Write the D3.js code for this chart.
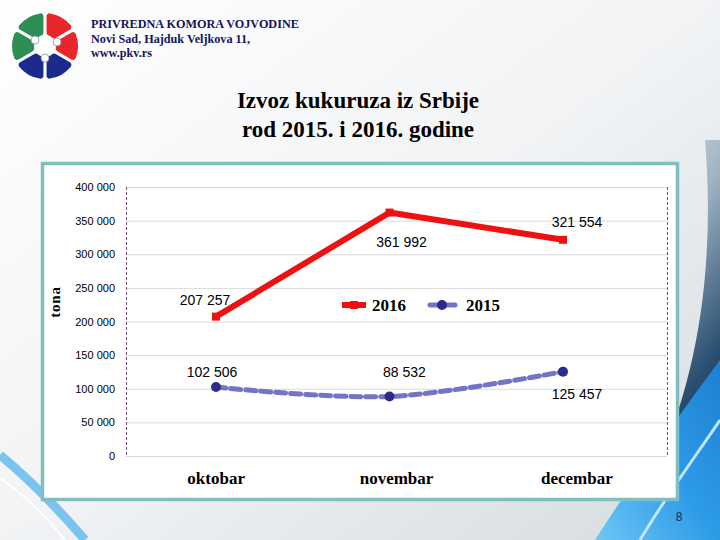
<!DOCTYPE html>
<html>
<head>
<meta charset="utf-8">
<title>Izvoz kukuruza iz Srbije</title>
<style>
body { margin: 0; padding: 0; }
svg { display: block; }
.tick-y { font-family: "Liberation Sans", sans-serif; font-size: 11px; fill: #000; }
.dlabel { font-family: "Liberation Sans", sans-serif; font-size: 14px; fill: #000; }
.serif { font-family: "Liberation Serif", serif; }
</style>
<script src="https://d3js.org/d3.v7.min.js"></script>
</head>
<body>
<svg id="chart" width="720" height="540"></svg>
<script>
// data
const months = ["oktobar", "novembar", "decembar"];
const values2016 = [207257, 361992, 321554];
const values2015 = [102506, 88532, 125457];
const yTicks = [0, 50000, 100000, 150000, 200000, 250000, 300000, 350000, 400000];
const headerLines = ["PRIVREDNA KOMORA VOJVODINE", "Novi Sad, Hajduk Veljkova 11,", "www.pkv.rs"];
const titleLines = ["Izvoz kukuruza iz Srbije", "rod 2015. i 2016. godine"];

const svg = d3.select("#chart");
const W = 720, H = 540;

// background
const defs = svg.append("defs");
const bg = defs.append("linearGradient").attr("id", "bg")
  .attr("x1", "0").attr("y1", "0").attr("x2", "1").attr("y2", "1");
bg.append("stop").attr("offset", "0").attr("stop-color", "#ffffff");
bg.append("stop").attr("offset", "0.5").attr("stop-color", "#f1f3f5");
bg.append("stop").attr("offset", "1").attr("stop-color", "#d5dbe0");
const dark = defs.append("linearGradient").attr("id", "dark")
  .attr("x1", "0").attr("y1", "0").attr("x2", "0.3").attr("y2", "1");
dark.append("stop").attr("offset", "0").attr("stop-color", "#d9e0e6");
dark.append("stop").attr("offset", "0.35").attr("stop-color", "#9fb2c2");
dark.append("stop").attr("offset", "0.75").attr("stop-color", "#2a4f70");
dark.append("stop").attr("offset", "1").attr("stop-color", "#0e2a4a");
const blue = defs.append("linearGradient").attr("id", "blue")
  .attr("x1", "0").attr("y1", "1").attr("x2", "1").attr("y2", "0");
blue.append("stop").attr("offset", "0").attr("stop-color", "#6fc6f5");
blue.append("stop").attr("offset", "0.5").attr("stop-color", "#2d9be8");
blue.append("stop").attr("offset", "1").attr("stop-color", "#1e7fd0");

svg.append("rect").attr("width", W).attr("height", H).attr("fill", "url(#bg)");
svg.append("path").attr("fill", "url(#dark)")
  .attr("d", "M705,140 C715,260 700,380 650,480 L630,540 L720,540 L720,140 Z");
svg.append("path").attr("fill", "url(#blue)")
  .attr("d", "M595,540 C640,470 690,400 720,360 L720,540 Z");
svg.append("path").attr("fill", "none").attr("stroke", "#bfe6ff").attr("stroke-width", 3)
  .attr("d", "M640,540 C670,490 700,450 720,420");
svg.append("path").attr("fill", "none").attr("stroke", "#5cb8ee").attr("stroke-width", 9).attr("opacity", 0.8)
  .attr("d", "M0,455 C30,480 55,505 85,540");
svg.append("path").attr("fill", "none").attr("stroke", "#ffffff").attr("stroke-width", 2)
  .attr("d", "M0,478 C25,495 45,515 65,540");

// logo
const logo = svg.append("g").attr("transform", "translate(45,46)");
const logoColors = ["#e8262c", "#e8262c", "#1b2a8c", "#1b2a8c", "#2e8f55", "#2e8f55"];
const arc = d3.arc().innerRadius(11).outerRadius(33).padAngle(0.09).cornerRadius(3);
const pie = d3.pie().value(1).sort(null);
logo.selectAll("path").data(pie(logoColors)).join("path")
  .attr("d", arc).attr("fill", (d, i) => logoColors[i]);
logo.append("circle").attr("r", 8).attr("fill", "#fff");
[[-10, -6], [12, -4], [0, 12]].forEach(p => {
  logo.append("line").attr("x1", 0).attr("y1", 0).attr("x2", p[0]).attr("y2", p[1])
    .attr("stroke", "#fff").attr("stroke-width", 3);
  logo.append("circle").attr("cx", p[0]).attr("cy", p[1]).attr("r", 4)
    .attr("fill", "#fff").attr("stroke", "#8890a8").attr("stroke-width", 0.8);
});

// header
svg.append("g").selectAll("text").data(headerLines).join("text")
  .attr("class", "serif")
  .attr("x", 91).attr("y", (d, i) => 28 + i * 14.5)
  .attr("font-size", 12.2).attr("font-weight", "bold").attr("fill", "#14145c")
  .text(d => d);

// title
svg.append("g").selectAll("text").data(titleLines).join("text")
  .attr("class", "serif")
  .attr("x", 358).attr("y", (d, i) => 108 + i * 29)
  .attr("text-anchor", "middle").attr("font-size", 23).attr("font-weight", "bold").attr("fill", "#000")
  .text(d => d);

// chart frame
svg.append("rect").attr("x", 42.5).attr("y", 163.5).attr("width", 635).attr("height", 336)
  .attr("fill", "#fff").attr("stroke", "#7fbfc0").attr("stroke-width", 3.5);

const plot = { left: 126, right: 667, top: 187, bottom: 456 };
const y = d3.scaleLinear().domain([0, 400000]).range([plot.bottom, plot.top]);
const xBand = d3.scaleBand().domain(months).range([plot.left, plot.right]);
const xLine = d3.scalePoint().domain(months).range([216, 563]);
const fmt = v => d3.format(",")(v).replace(/,/g, " ");

// gridlines
svg.append("g").selectAll("line").data(yTicks).join("line")
  .attr("x1", plot.left).attr("x2", plot.right)
  .attr("y1", d => y(d) + 0.5).attr("y2", d => y(d) + 0.5)
  .attr("stroke", "#d9d9d9").attr("stroke-width", 1);
// side axis lines
[plot.left, plot.right].forEach(xx => {
  svg.append("line").attr("x1", xx + 0.5).attr("x2", xx + 0.5)
    .attr("y1", plot.top).attr("y2", plot.bottom)
    .attr("stroke", "#7a4a7a").attr("stroke-width", 1).attr("stroke-dasharray", "3,2");
});

// y axis labels
const yAxis = d3.axisLeft(y).tickValues(yTicks).tickFormat(fmt).tickSize(0).tickPadding(11);
const ya = svg.append("g").attr("transform", `translate(${plot.left},0)`).call(yAxis);
ya.select(".domain").remove();
ya.selectAll("text").attr("class", "tick-y").attr("font-family", null).attr("font-size", null);

svg.append("text").attr("class", "serif")
  .attr("transform", "translate(60,302) rotate(-90)")
  .attr("text-anchor", "middle").attr("font-size", 15).attr("font-weight", "bold")
  .attr("letter-spacing", 0.8)
  .text("tona");

// x axis labels
const xAxis = d3.axisBottom(xBand).tickSize(0).tickPadding(16);
const xa = svg.append("g").attr("transform", `translate(0,${plot.bottom})`).call(xAxis);
xa.select(".domain").remove();
xa.selectAll("text").attr("class", "serif").attr("font-family", null)
  .attr("font-size", 17).attr("font-weight", "bold").attr("fill", "#000");

// 2015 series
const line2015 = d3.line().x((d, i) => xLine(months[i])).y(d => y(d)).curve(d3.curveCatmullRom.alpha(0.5));
svg.append("path").datum(values2015).attr("d", line2015)
  .attr("fill", "none").attr("stroke", "#7474c4").attr("stroke-width", 5)
  .attr("stroke-dasharray", "10,5").attr("stroke-linecap", "round");
svg.append("g").selectAll("circle").data(values2015).join("circle")
  .attr("cx", (d, i) => xLine(months[i])).attr("cy", d => y(d)).attr("r", 5)
  .attr("fill", "#2b2b8c");

// 2016 series
const line2016 = d3.line().x((d, i) => xLine(months[i])).y(d => y(d));
svg.append("path").datum(values2016).attr("d", line2016)
  .attr("fill", "none").attr("stroke", "#ee1111").attr("stroke-width", 6)
  .attr("stroke-linejoin", "round");
const sq = d3.symbol().type(d3.symbolSquare).size(64);
svg.append("g").selectAll("path").data(values2016).join("path")
  .attr("transform", (d, i) => `translate(${xLine(months[i])},${y(d)})`)
  .attr("d", sq).attr("fill", "#ee1111");

// data labels
const off2016 = [[-11, -12], [12, 34], [14, -13]];
const off2015 = [[-4, -10], [15, -19], [14, 27]];
svg.append("g").selectAll("text").data(values2016).join("text").attr("class", "dlabel")
  .attr("x", (d, i) => xLine(months[i]) + off2016[i][0])
  .attr("y", (d, i) => y(d) + off2016[i][1])
  .attr("text-anchor", "middle").text(fmt);
svg.append("g").selectAll("text").data(values2015).join("text").attr("class", "dlabel")
  .attr("x", (d, i) => xLine(months[i]) + off2015[i][0])
  .attr("y", (d, i) => y(d) + off2015[i][1])
  .attr("text-anchor", "middle").text(fmt);

// legend
const lg = svg.append("g").attr("transform", "translate(342,305)");
lg.append("line").attr("x1", 0).attr("x2", 24).attr("stroke", "#ee1111").attr("stroke-width", 6);
lg.append("path").attr("transform", "translate(12,0)").attr("d", sq).attr("fill", "#ee1111");
lg.append("text").attr("class", "serif").attr("x", 30).attr("y", 6)
  .attr("font-size", 17).attr("font-weight", "bold").text("2016");
lg.append("line").attr("x1", 88).attr("x2", 113).attr("stroke", "#7474c4").attr("stroke-width", 5)
  .attr("stroke-linecap", "round");
lg.append("circle").attr("cx", 100).attr("cy", 0).attr("r", 5).attr("fill", "#2b2b8c");
lg.append("text").attr("class", "serif").attr("x", 124).attr("y", 6)
  .attr("font-size", 17).attr("font-weight", "bold").text("2015");

// page number
svg.append("text").attr("x", 679).attr("y", 521).attr("text-anchor", "middle")
  .attr("font-family", "Liberation Sans, sans-serif").attr("font-size", 12).attr("fill", "#1a2a60")
  .text("8");
</script>
</body>
</html>
